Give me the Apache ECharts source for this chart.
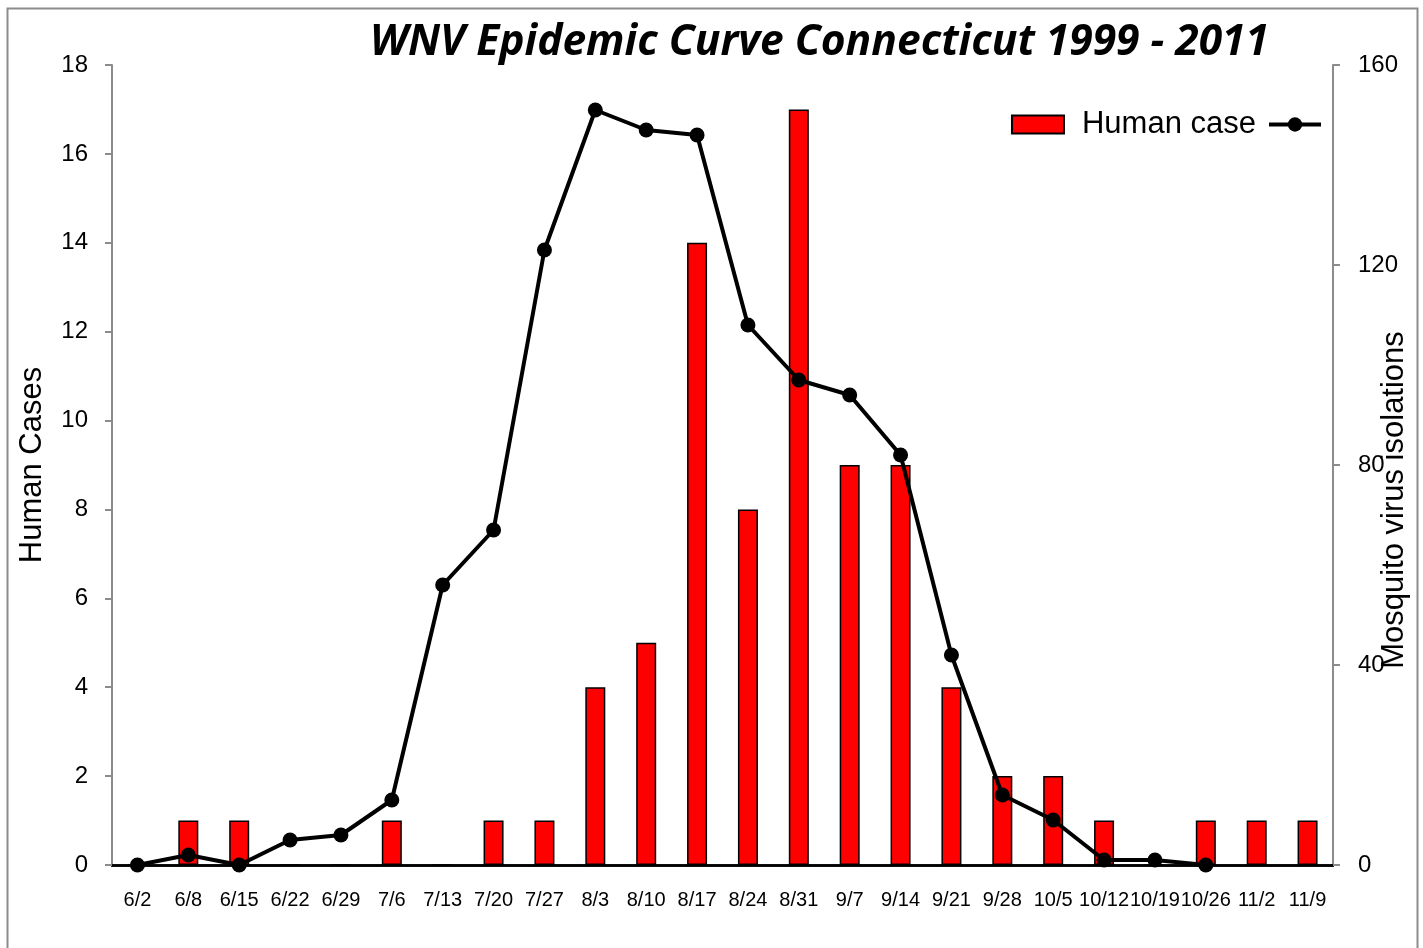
<!DOCTYPE html>
<html>
<head>
<meta charset="utf-8">
<title>WNV Epidemic Curve</title>
<script src="https://cdn.jsdelivr.net/npm/echarts@6/dist/echarts.min.js"></script>
<style>
    html, body { margin: 0; padding: 0; background: #fff; }
    #main { width: 1423px; height: 948px; }
</style>
</head>
<body>
<div id="main"></div>
<script>
    // week start dates
    var weeks = ['6/2','6/8','6/15','6/22','6/29','7/6','7/13','7/20','7/27','8/3','8/10','8/17',
                 '8/24','8/31','9/7','9/14','9/21','9/28','10/5','10/12','10/19','10/26','11/2','11/9'];
    var humanCases = [0,1,1,0,0,1,0,1,1,4,5,14,8,17,9,9,4,2,2,1,0,1,1,1];
    // mosquito isolations, no points after 10/26
    var mosquito = [0,2,0,5,6,13,56,67,123,151,147,146,108,97,94,82,42,14,9,1,1,0,null,null];
    var leftTicks = [0,18,2];
    var rightTicks = [0,160,40];

    var myChart = echarts.init(document.getElementById('main'));
    var font = 'Liberation Sans, Arial, sans-serif';

    var option = {
        backgroundColor: '#fff',
        animation: false,
        graphic: [
            {
                type: 'rect',
                shape: { x: 7.5, y: 8.5, width: 1410, height: 1000 },
                style: { fill: 'none', stroke: '#8c8c8c', lineWidth: 2 }
            },
            {
                type: 'text',
                left: 370,
                top: 21,
                style: {
                    text: 'WNV Epidemic Curve Connecticut 1999 - 2011',
                    font: 'italic bold 42.5px "Open Sans", sans-serif',
                    fill: '#000'
                }
            }
        ],
        legend: {
            right: 95,
            top: 104,
            itemWidth: 52,
            itemHeight: 18,
            itemGap: 11,
            data: [
                { name: 'Human case', icon: 'rect' },
                { name: 'Mosquito virus isolations', lineStyle: { width: 4 } }
            ],
            formatter: function (name) {
                return name === 'Human case' ? name : '';
            },
            textStyle: { fontFamily: font, fontSize: 31, color: '#000', padding: [0, 0, 0, 13] }
        },
        grid: { left: 112, right: 90, top: 65, bottom: 83, outerBoundsMode: 'none', containLabel: false },
        xAxis: [
            {
                type: 'category',
                data: weeks,
                axisLine: { lineStyle: { color: '#000', width: 2.5 } },
                axisTick: { show: false },
                axisLabel: { interval: 0, fontFamily: font, fontSize: 20, color: '#000', margin: 25 }
            },
            {
                type: 'category',
                position: 'top',
                data: weeks,
                axisLine: { lineStyle: { color: '#000', width: 2.5 } },
                axisTick: { show: false },
                axisLabel: { show: false }
            }
        ],
        yAxis: [
            {
                type: 'value',
                min: leftTicks[0],
                max: leftTicks[1],
                interval: leftTicks[2],
                name: 'Human Cases',
                nameLocation: 'middle',
                nameGap: 64,
                nameMoveOverlap: false,
                nameTextStyle: { fontFamily: font, fontSize: 31, color: '#000' },
                axisLine: { show: true, lineStyle: { color: '#8c8c8c', width: 2 } },
                axisTick: { show: true, length: 7, lineStyle: { color: '#8c8c8c', width: 2 } },
                axisLabel: { fontFamily: font, fontSize: 24, color: '#000', margin: 24 },
                splitLine: { show: false }
            },
            {
                type: 'value',
                position: 'right',
                min: rightTicks[0],
                max: rightTicks[1],
                interval: rightTicks[2],
                name: 'Mosquito virus isolations',
                nameLocation: 'middle',
                nameRotate: 90,
                nameGap: 46,
                nameMoveOverlap: false,
                nameTextStyle: { fontFamily: font, fontSize: 31, color: '#000', padding: [0, 70, 0, 0] },
                axisLine: { show: true, lineStyle: { color: '#8c8c8c', width: 2 } },
                axisTick: { show: true, length: 7, lineStyle: { color: '#8c8c8c', width: 2 } },
                axisLabel: { fontFamily: font, fontSize: 24, color: '#000', margin: 25 },
                splitLine: { show: false }
            }
        ],
        series: [
            {
                name: 'Human case',
                type: 'bar',
                yAxisIndex: 0,
                barWidth: 20,
                itemStyle: { color: '#ff0000', borderColor: '#000', borderWidth: 1.5 },
                data: humanCases
            },
            {
                name: 'Mosquito virus isolations',
                type: 'line',
                yAxisIndex: 1,
                symbol: 'circle',
                symbolSize: 15,
                connectNulls: false,
                lineStyle: { color: '#000', width: 4 },
                itemStyle: { color: '#000' },
                data: mosquito
            }
        ]
    };
    myChart.setOption(option);
</script>
</body>
</html>
